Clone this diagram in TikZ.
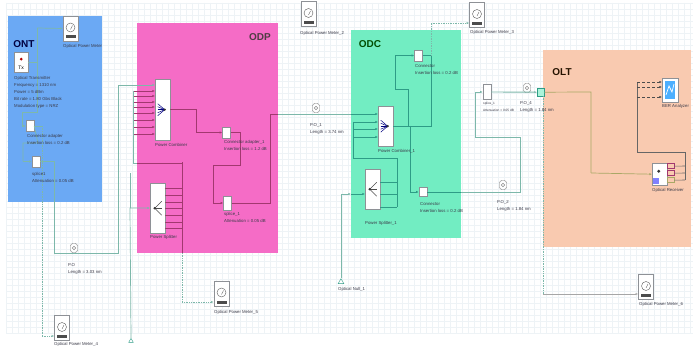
\documentclass[tikz,border=0pt]{standalone}
\usepackage{xcolor}
\usepackage{fontspec}
\setmainfont{Liberation Sans}
\usetikzlibrary{arrows.meta, positioning, calc, shapes.geometric}
\definecolor{ontblue}{HTML}{6BA9F4}
\definecolor{odppink}{HTML}{F56CC6}
\definecolor{odcgreen}{HTML}{72EDC2}
\definecolor{oltpeach}{HTML}{F9CAB0}
\definecolor{gridpale}{HTML}{EEF3F6}
\definecolor{wireteal}{HTML}{7DB8AA}
\definecolor{wirepink}{HTML}{A2386F}
\definecolor{wireodc}{HTML}{2E9C86}
\definecolor{wireolt}{HTML}{A9A866}
\definecolor{inklabel}{HTML}{3A3A48}
\definecolor{boxgrey}{HTML}{8E9196}

\begin{document}
\begin{tikzpicture}[
  x=1pt, y=-1pt,
  >={Latex[length=2.6pt,width=2.2pt]},
  region/.style={draw=none, anchor=north west, inner sep=0pt},
  title/.style={font=\fontsize{10}{11}\selectfont\bfseries, inner sep=0pt},
  lbl/.style={font=\fontsize{4.3}{7}\selectfont, color=inklabel, anchor=north west, align=left, inner sep=0pt},
  tightlbl/.style={lbl, font=\fontsize{3.2}{7}\selectfont},
  dev/.style={draw=boxgrey, fill=white, line width=0.4pt, anchor=north west, inner sep=0pt},
  meter/.style={draw=boxgrey, fill=white, line width=0.7pt, minimum width=15pt, minimum height=25pt, inner sep=0pt},
  small/.style={draw=boxgrey, fill=white, line width=0.4pt, minimum width=8pt, minimum height=11pt, inner sep=0pt},
  gauge/.style={draw=black!65, line width=0.4pt},
  fan/.style={draw=black!70, line width=0.5pt},
  wire/.style={wireteal, line width=0.7pt},
  dotwire/.style={wireteal, line width=0.7pt, densely dotted},
  pinkwire/.style={wirepink, line width=0.7pt},
  odcwire/.style={wireodc, line width=0.8pt},
  oltwire/.style={wireolt, line width=0.7pt},
  blackwire/.style={black!60, line width=0.6pt},
  blackdash/.style={black!70, line width=0.5pt, densely dashed}
]
\useasboundingbox (0,0) rectangle (700,347);
\fill[white] (0,0) rectangle (700,347);

% ---- faint sheet grid ----
\foreach \gx in {6,12,...,690} { \draw[gridpale, line width=0.3pt] (\gx,3) -- (\gx,333); }
\foreach \gy in {3,9,...,333} { \draw[gridpale, line width=0.3pt] (6,\gy) -- (693,\gy); }

% ---- coloured regions ----
\node[region, fill=ontblue, minimum width=94pt, minimum height=186pt] (ontbox) at (8,16) {};
\node[region, fill=odppink, minimum width=141pt, minimum height=230pt] (odpbox) at (137,23) {};
\node[region, fill=odcgreen, minimum width=110pt, minimum height=208pt] (odcbox) at (351,30) {};
\node[region, fill=oltpeach, minimum width=148pt, minimum height=197pt] (oltbox) at (543,50) {};
\node[title, color=black!75!blue] (ontname) at (24,44) {ONT};
\node[title, color=black!80!magenta] (odpname) at (260,37) {ODP};
\node[title, color=black!70!green] (odcname) at (370,44) {ODC};
\node[title, color=black!85!orange] (oltname) at (562,72) {OLT};

% ---- devices ----
\node[dev, minimum width=14pt, minimum height=20pt] (tx) at (14,52) {};
\fill[red!70!black] ([yshift=3pt]tx.center) circle (1.5pt);
\node[font=\fontsize{5}{6}\selectfont, inner sep=0pt] (txname) at ([yshift=-6pt]tx.center) {Tx};
\node[small] (adapter) at (30,126) {};
\node[small] (splice) at (36,161.5) {};
\node[dev, minimum width=15pt, minimum height=61pt] (cmb) at (155,79) {};
\node[dev, minimum width=15pt, minimum height=50pt] (spl) at (150,183) {};
\node[small] (adapterB) at (226.5,132.5) {};
\node[small, minimum height=14pt] (spliceB) at (227.5,203) {};
\node[dev, minimum width=15pt, minimum height=40pt] (cmbB) at (378,106) {};
\node[dev, minimum width=15pt, minimum height=40pt] (splB) at (365,169) {};
\node[small] (conA) at (418.5,55.5) {};
\node[small, minimum height=9pt] (conB) at (423,192) {};
\node[small, minimum height=15pt] (spliceC) at (487,92) {};
\node[dev, minimum width=7pt, minimum height=8pt, fill=odcgreen!60, draw=wireodc] (tee) at (537,88) {};
\node[dev, minimum width=16pt, minimum height=24pt, fill=white] (ber) at (662,78) {};
\fill[blue!45!cyan!70] (665,81) rectangle (675,99);
\draw[white, line width=0.7pt] (666,95) -- (669,86) -- (672,92) -- (674,84);
\node[dev, minimum width=15pt, minimum height=22pt] (rx) at (652,163) {};
\fill[black!80] ([shift={(-1pt,3pt)}]rx.center) circle (1.6pt);
\fill[blue!50] (653,178) rectangle (659,184);
\node[dev, minimum width=7pt, minimum height=5pt, draw=wirepink, fill=oltpeach] (rxa) at (667,163.5) {};
\node[dev, minimum width=7pt, minimum height=5pt, draw=wirepink, fill=oltpeach] (rxb) at (667,170.5) {};
\node[dev, minimum width=7pt, minimum height=5pt, draw=wireolt, fill=oltpeach] (rxc) at (667,177.5) {};
\node[isosceles triangle, isosceles triangle apex angle=60, shape border rotate=90, draw=wireodc, fill=white, minimum size=4pt, inner sep=0pt] (nullA) at (131,341) {};
\node[isosceles triangle, isosceles triangle apex angle=60, shape border rotate=90, draw=wireodc, fill=white, minimum size=5pt, inner sep=0pt] (nullB) at (341,282) {};

% fan glyph inside the combiners and splitters
\foreach \n in {cmb, cmbB} {
  \foreach \k in {-6,-3,0,3,6} { \draw[fan, blue!50!black] ([shift={(-5pt,\k pt)}]\n.center) -- ([xshift=2pt]\n.center); }
  \fill[black!80] ([xshift=2pt]\n.center) circle (1.3pt);
}
\foreach \n in {spl, splB} {
  \foreach \k in {-7,0,7} { \draw[fan] ([shift={(4pt,\k pt)}]\n.center) -- ([xshift=-3pt]\n.center); }
  \fill[black!80] ([xshift=-3pt]\n.center) circle (1.3pt);
}

% ---- power meters ----
\foreach \n/\x/\y in {meterA/70.5/28.5, meterB/308.5/14, meterC/477/15, meterD/221.5/293.5, meterE/62/328, meterF/646/287} {
  \node[meter] (\n) at (\x,\y) {};
  \draw[gauge, fill=white] ([yshift=1pt]\n.center) circle (4.5pt);
  \draw[gauge] ([yshift=-1pt]\n.center) -- ([shift={(2pt,3pt)}]\n.center);
  \fill[black!70] ([shift={(-5pt,-7pt)}]\n.center) rectangle ([shift={(5pt,-10pt)}]\n.center);
}

% ---- fibre symbols ----
\foreach \n/\x/\y in {fibA/74/248, fibB/316/108, fibC/503/185, fibD/527/88} {
  \node[draw=black!55, fill=white, rounded corners=2.5pt, minimum width=7pt, minimum height=9pt, inner sep=0pt] (\n) at (\x,\y) {};
  \node[draw=black!45, circle, minimum size=3.5pt, inner sep=0pt] (\n c) at (\n.center) {};
}

% ---- ONT wiring ----
\coordinate (txJ) at (37,62);
\draw[wire] (tx.east |- txJ) -- (txJ) -- (37,28) edge[->] (meterA.west);
\draw[wire, ->] (txJ) -- (37,112) -- (22,112) -- (22,126) -- (adapter.west);
\draw[wire] (adapter.east) -- (42,126);
\draw[wire] (adapter.east) -- (38,143) -- (23,143) -- (23,161.5);
\draw[wire, ->] (23,161.5) -- (splice.west);
\draw[wire] (splice.east) -- (54,161.5) -- (54,253) -- (118,253) -- (118,85);
\draw[dotwire] (42,126) -- (42,336);
\draw[dotwire, ->] (42,336) -- (meterE.west |- 0,336);

% ---- ODP wiring ----
\coordinate (busL) at (133,93);
\coordinate (busR) at (182,162);
\foreach \i/\y in {1/85, 2/91, 3/96, 4/102, 5/107, 6/113, 7/120, 8/127, 9/134} {
  \coordinate (cmbin\i) at (155,\y);
}
\draw[wire, ->] (118,85) -- (cmbin1);
\foreach \i in {2,...,9} { \draw[pinkwire, ->] (busL |- cmbin\i) -- (cmbin\i); }
\draw[wire] (busL |- cmbin2) -- (133,163) -- (137,163);
\draw[pinkwire] (137,163) -- (182,163);
\foreach \i/\y in {1/188, 2/195, 3/202, 4/208, 5/215, 6/222, 7/228} {
  \coordinate (splout\i) at (165,\y);
  \draw[pinkwire] (splout\i) -- (busR |- splout\i);
}
\draw[pinkwire] (busR) -- (182,228);
\draw[dotwire, ->] (182,253) -- (182,302) -- (meterD.west |- 0,302);
\draw[pinkwire] (182,228) -- (182,253);
\draw[pinkwire] (cmb.east |- 0,109) -- (196,109) -- (196,132.5);
\draw[pinkwire, ->] (196,132.5) -- (adapterB.west);
\draw[pinkwire] (adapterB.east) -- (240,132.5) -- (240,165) -- (213,165) -- (213,203);
\draw[pinkwire, ->] (213,203) -- (spliceB.west);
\draw[pinkwire] (spliceB.east) -- (270,203) -- (270,114) -- (278,114);
\draw[wire, ->] (nullA.north) -- (130,208) -- (spl.west |- 0,208);
\draw[wire] (130,208) -- (130,173);

% ---- middle fibre into ODC ----
\draw[wire] (278,114) -- (351,114);
\draw[odcwire, ->] (351,114) -- (cmbB.west |- 0,114);

% ---- ODC wiring ----
\foreach \i/\y in {2/122, 3/129, 4/137} { \draw[odcwire, ->] (353,\y) -- (cmbB.west |- 0,\y); }
\draw[odcwire] (353,122) -- (353,158) -- (397,158) -- (397,207);
\foreach \i/\y in {1/182, 2/194, 3/207} { \draw[odcwire] (splB.east |- 0,\y) -- (397,\y); }
\draw[wire, ->] (nullB.north) -- (341,194) -- (351,194);
\draw[odcwire, ->] (351,194) -- (splB.west |- 0,194);
\draw[odcwire] (cmbB.east |- 0,126) -- (431,126) -- (431,55.5) -- (conA.east);
\draw[dotwire, ->] (431,55.5) -- (431,23) -- (meterC.west |- 0,23);
\draw[odcwire] (408,126) -- (408,89) -- (395,89) -- (395,55.5);
\draw[odcwire, ->] (395,55.5) -- (conA.west);
\draw[odcwire] (410,126) -- (410,192);
\draw[odcwire, ->] (410,192) -- (conB.west);
\draw[odcwire] (conB.east) -- (461,192);

% ---- fibres up to OLT ----
\draw[wire, line width=0.9pt] (461,192) -- (520,192) -- (520,137) -- (475,137) -- (475,92);
\draw[wire, ->] (475,92) -- (spliceC.west);
\draw[wire, line width=0.9pt, ->] (spliceC.east) -- (tee.west);
\draw[oltwire] (tee.east) -- (591,92) -- (591,173);
\draw[oltwire, ->] (591,173) -- (rx.west);
\draw[dotwire] (543,96) -- (543,294);
\draw[blackwire, black!35, ->] (543,294) -- (meterF.west |- 0,294);

% ---- OLT wiring ----
\draw[blackwire] (rxa.east) -- (685,166);
\draw[blackwire] (rxb.east) -- (685,173);
\draw[blackwire] (rxc.east) -- (685,180);
\draw[blackwire] (685,180) -- (685,152) -- (637,152) -- (637,82);
\foreach \y in {82, 87, 97} { \draw[blackdash, ->] (637,\y) -- (ber.west |- 0,\y); }

% ---- labels ----
\node[lbl] (lmeterA) at (63,44.5) {Optical Power Meter};
\node[lbl] (ltx) at (14,76.5) {Optical Transmitter\\Frequency = 1310  nm\\Power = 5  dBm\\Bit rate = 1.80 Gbs  Black\\Modulation type = NRZ};
\node[lbl] (ladapter) at (27,134.5) {Connector adapter\\Insertion loss = 0.2  dB};
\node[lbl] (lsplice) at (32,172.5) {splice1\\Attenuation = 0.05  dB};
\node[lbl] (lfibA) at (68,263.5) {P.O\\Length = 3.03  nm};
\node[lbl] (lmeterB) at (300,31) {Optical Power Meter\_2};
\node[lbl] (lmeterC) at (470,30.5) {Optical Power Meter\_3};
\node[lbl] (lcmb) at (155,143.5) {Power Combiner};
\node[lbl] (lspl) at (150,235.5) {Power Splitter};
\node[lbl] (ladapterB) at (224,140.5) {Connector adapter\_1\\Insertion loss = 1.2  dB};
\node[lbl] (lspliceB) at (224,212.5) {splice\_1\\Attenuation = 0.05  dB};
\node[lbl] (lmeterD) at (214,310.5) {Optical Power Meter\_5};
\node[lbl] (lmeterE) at (54,342.5) {Optical Power Meter\_4};
\node[lbl] (lfibB) at (310,123.5) {P.O\_1\\Length = 3.74  nm};
\node[lbl] (lconA) at (415,64.5) {Connector\\Insertion loss = 0.2  dB};
\node[lbl] (lcmbB) at (378,149.5) {Power Combiner\_1};
\node[lbl] (lsplB) at (365,221.5) {Power Splitter\_1};
\node[lbl] (lconB) at (420,202.5) {Connector\\Insertion loss = 0.2  dB};
\node[lbl] (lfibC) at (497,200.5) {P.O\_2\\Length = 1.84  nm};
\node[tightlbl] (lspliceC) at (483,101.5) {splice\_1\\Attenuation = 0.05  dB};
\node[lbl] (lfibD) at (520,101.5) {P.O\_4\\Length = 1.84  nm};
\node[lbl] (lnullB) at (338,287.5) {Optical Null\_1};
\node[lbl] (lber) at (662,104.5) {BER Analyzer};
\node[lbl] (lrx) at (652,188.5) {Optical Receiver};
\node[lbl] (lmeterF) at (639,302.5) {Optical Power Meter\_6};
\end{tikzpicture}
\end{document}
